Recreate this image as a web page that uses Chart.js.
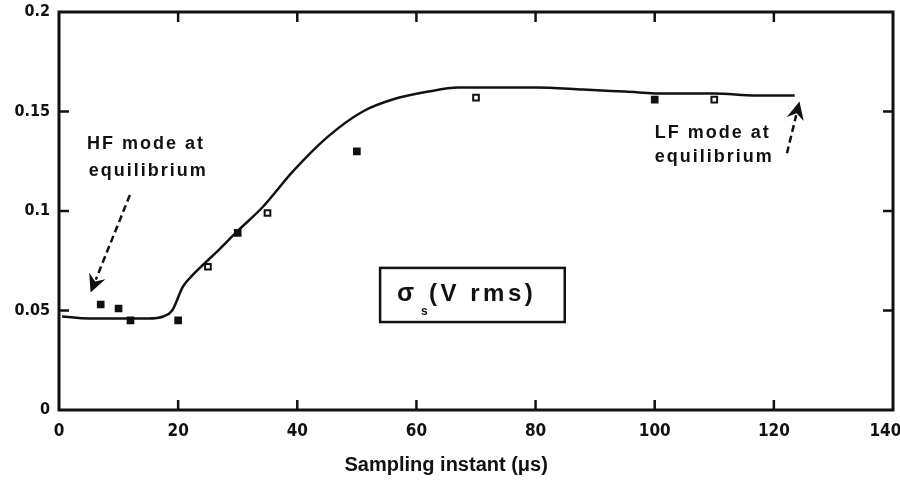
<!DOCTYPE html>
<html>
<head>
<meta charset="utf-8">
<script src="https://cdn.jsdelivr.net/npm/chart.js@4"></script>
<style>
  html, body { margin: 0; padding: 0; background: #fff; }
  #wrap { width: 900px; height: 482px; }
</style>
</head>
<body>
<div id="wrap"><canvas id="chart"></canvas></div>
<script>
// fitted curve
const curveX = [0.5, 5, 10, 15, 17.5, 19, 20.8, 22.5, 24.2, 27, 30, 34.2, 39.3, 45, 51, 56, 62, 67, 73, 80, 88, 95, 102, 110, 117, 123.5];
const curveY = [0.047, 0.046, 0.046, 0.046, 0.047, 0.050, 0.062, 0.068, 0.073, 0.081, 0.090, 0.102, 0.120, 0.137, 0.150, 0.156, 0.160, 0.162, 0.162, 0.162, 0.161, 0.160, 0.159, 0.159, 0.158, 0.158];

// measured samples
const sampleX = [7, 10, 12, 20, 25, 30, 35, 50, 70, 100, 110];
const sampleY = [0.053, 0.051, 0.045, 0.045, 0.072, 0.089, 0.099, 0.130, 0.157, 0.156, 0.156];
const sampleOpen = [false, false, false, false, true, false, true, false, true, false, true];

const xTicks = [0, 20, 40, 60, 80, 100, 120, 140];
const yTicks = [0, 0.05, 0.1, 0.15, 0.2];

const xTitle = 'Sampling instant (\u03bcs)';

const narrow = '"Liberation Sans Narrow", "DejaVu Sans Condensed", "Liberation Sans", sans-serif';
const wide = '"Liberation Sans", Arial, sans-serif';

// frame with inward ticks + the notes on the plot
const paperLook = {
  id: 'paperLook',
  afterDraw(chart) {
    const ctx = chart.ctx;
    const a = chart.chartArea;
    const xs = chart.scales.x, ys = chart.scales.y;
    ctx.save();
    ctx.strokeStyle = '#111';
    ctx.lineWidth = 3;
    ctx.strokeRect(a.left, a.top, a.right - a.left, a.bottom - a.top);

    ctx.lineWidth = 2.5;
    const tl = 10;
    xTicks.slice(1, -1).forEach(v => {
      const px = xs.getPixelForValue(v);
      ctx.beginPath();
      ctx.moveTo(px, a.bottom); ctx.lineTo(px, a.bottom - tl);
      ctx.moveTo(px, a.top); ctx.lineTo(px, a.top + tl);
      ctx.stroke();
    });
    yTicks.slice(1, -1).forEach(v => {
      const py = ys.getPixelForValue(v);
      ctx.beginPath();
      ctx.moveTo(a.left, py); ctx.lineTo(a.left + tl, py);
      ctx.moveTo(a.right, py); ctx.lineTo(a.right - tl, py);
      ctx.stroke();
    });

    ctx.fillStyle = '#111';
    ctx.textBaseline = 'middle';

    // axis title, sits a bit left of centre in the original
    ctx.font = 'bold 20px ' + wide;
    ctx.textAlign = 'center';
    ctx.fillText(xTitle, xs.getPixelForValue(65), 465);

    // notes
    ctx.textAlign = 'left';
    ctx.font = 'bold 18px ' + wide;
    ctx.letterSpacing = '2px';
    ctx.fillText('HF mode at', xs.getPixelForValue(4.7), ys.getPixelForValue(0.1337));
    ctx.fillText('equilibrium', xs.getPixelForValue(5.0), ys.getPixelForValue(0.1201));
    ctx.fillText('LF mode at', xs.getPixelForValue(100), ys.getPixelForValue(0.1392));
    ctx.fillText('equilibrium', xs.getPixelForValue(100), ys.getPixelForValue(0.1271));
    ctx.letterSpacing = '0px';

    arrow(ctx, xs.getPixelForValue(11.9), ys.getPixelForValue(0.108),
               xs.getPixelForValue(5.3), ys.getPixelForValue(0.059));
    arrow(ctx, xs.getPixelForValue(122.2), ys.getPixelForValue(0.129),
               xs.getPixelForValue(124.3), ys.getPixelForValue(0.155));

    // sigma box
    const bx1 = xs.getPixelForValue(53.9), bx2 = xs.getPixelForValue(84.9);
    const by1 = ys.getPixelForValue(0.0714), by2 = ys.getPixelForValue(0.0442);
    ctx.lineWidth = 2.5;
    ctx.strokeRect(bx1, by1, bx2 - bx1, by2 - by1);
    const cy = (by1 + by2) / 2;
    ctx.font = 'bold 25px ' + wide;
    ctx.fillText('\u03c3', bx1 + 17, cy - 1);
    ctx.font = 'bold 12px ' + wide;
    ctx.fillText('s', bx1 + 41, cy + 17);
    ctx.font = 'bold 24px ' + wide;
    ctx.letterSpacing = '3.5px';
    ctx.fillText('(V rms)', bx1 + 49, cy - 1);
    ctx.letterSpacing = '0px';
    ctx.restore();
  }
};

function arrow(ctx, x1, y1, x2, y2) {
  const ang = Math.atan2(y2 - y1, x2 - x1);
  const head = 20;
  ctx.save();
  ctx.strokeStyle = '#111';
  ctx.lineWidth = 2.5;
  ctx.setLineDash([7, 4]);
  ctx.beginPath();
  ctx.moveTo(x1, y1);
  ctx.lineTo(x2 - Math.cos(ang) * head * 0.7, y2 - Math.sin(ang) * head * 0.7);
  ctx.stroke();
  ctx.setLineDash([]);
  ctx.beginPath();
  ctx.moveTo(x2, y2);
  ctx.lineTo(x2 - head * Math.cos(ang - 0.45), y2 - head * Math.sin(ang - 0.45));
  ctx.lineTo(x2 - head * 0.6 * Math.cos(ang), y2 - head * 0.6 * Math.sin(ang));
  ctx.lineTo(x2 - head * Math.cos(ang + 0.45), y2 - head * Math.sin(ang + 0.45));
  ctx.closePath();
  ctx.fillStyle = '#111';
  ctx.fill();
  ctx.restore();
}

new Chart(document.getElementById('chart'), {
  type: 'scatter',
  data: {
    datasets: [
      {
        label: 'fit',
        data: curveX.map((x, i) => ({ x: x, y: curveY[i] })),
        showLine: true,
        borderColor: '#111',
        borderWidth: 2.5,
        pointRadius: 0,
        cubicInterpolationMode: 'monotone',
        fill: false
      },
      {
        label: 'samples',
        data: sampleX.map((x, i) => ({ x: x, y: sampleY[i] })),
        showLine: false,
        pointStyle: 'rect',
        pointRadius: 4,
        pointBorderWidth: 2,
        pointBorderColor: '#111',
        pointBackgroundColor: sampleOpen.map(o => o ? '#fff' : '#111')
      }
    ]
  },
  options: {
    responsive: true,
    maintainAspectRatio: false,
    animation: false,
    events: [],
    layout: { padding: { top: 12, right: 7, left: 0, bottom: 0 } },
    plugins: {
      legend: { display: false },
      tooltip: { enabled: false }
    },
    scales: {
      x: {
        type: 'linear',
        min: 0, max: 140,
        afterBuildTicks: s => { s.ticks = xTicks.map(v => ({ value: v })); },
        afterFit: s => { s.height = 72; s.paddingLeft = 0; s.paddingRight = 0; },
        grid: { display: false, drawTicks: false },
        border: { display: false },
        ticks: {
          color: '#111',
          padding: 11,
          maxRotation: 0,
          font: { family: narrow, size: 17, weight: 'bold' },
          // last label would fall off the canvas, nudge it left
          callback: v => v === 140 ? '140\u2002\u2002' : String(v)
        }
      },
      y: {
        type: 'linear',
        min: 0, max: 0.2,
        afterBuildTicks: s => { s.ticks = yTicks.map(v => ({ value: v })); },
        afterFit: s => { s.width = 59; s.paddingTop = 0; s.paddingBottom = 0; },
        grid: { display: false, drawTicks: false },
        border: { display: false },
        ticks: {
          color: '#111',
          padding: 9,
          font: { family: narrow, size: 16, weight: 'bold' },
          callback: v => String(v)
        }
      }
    }
  },
  plugins: [paperLook]
});
</script>
</body>
</html>
